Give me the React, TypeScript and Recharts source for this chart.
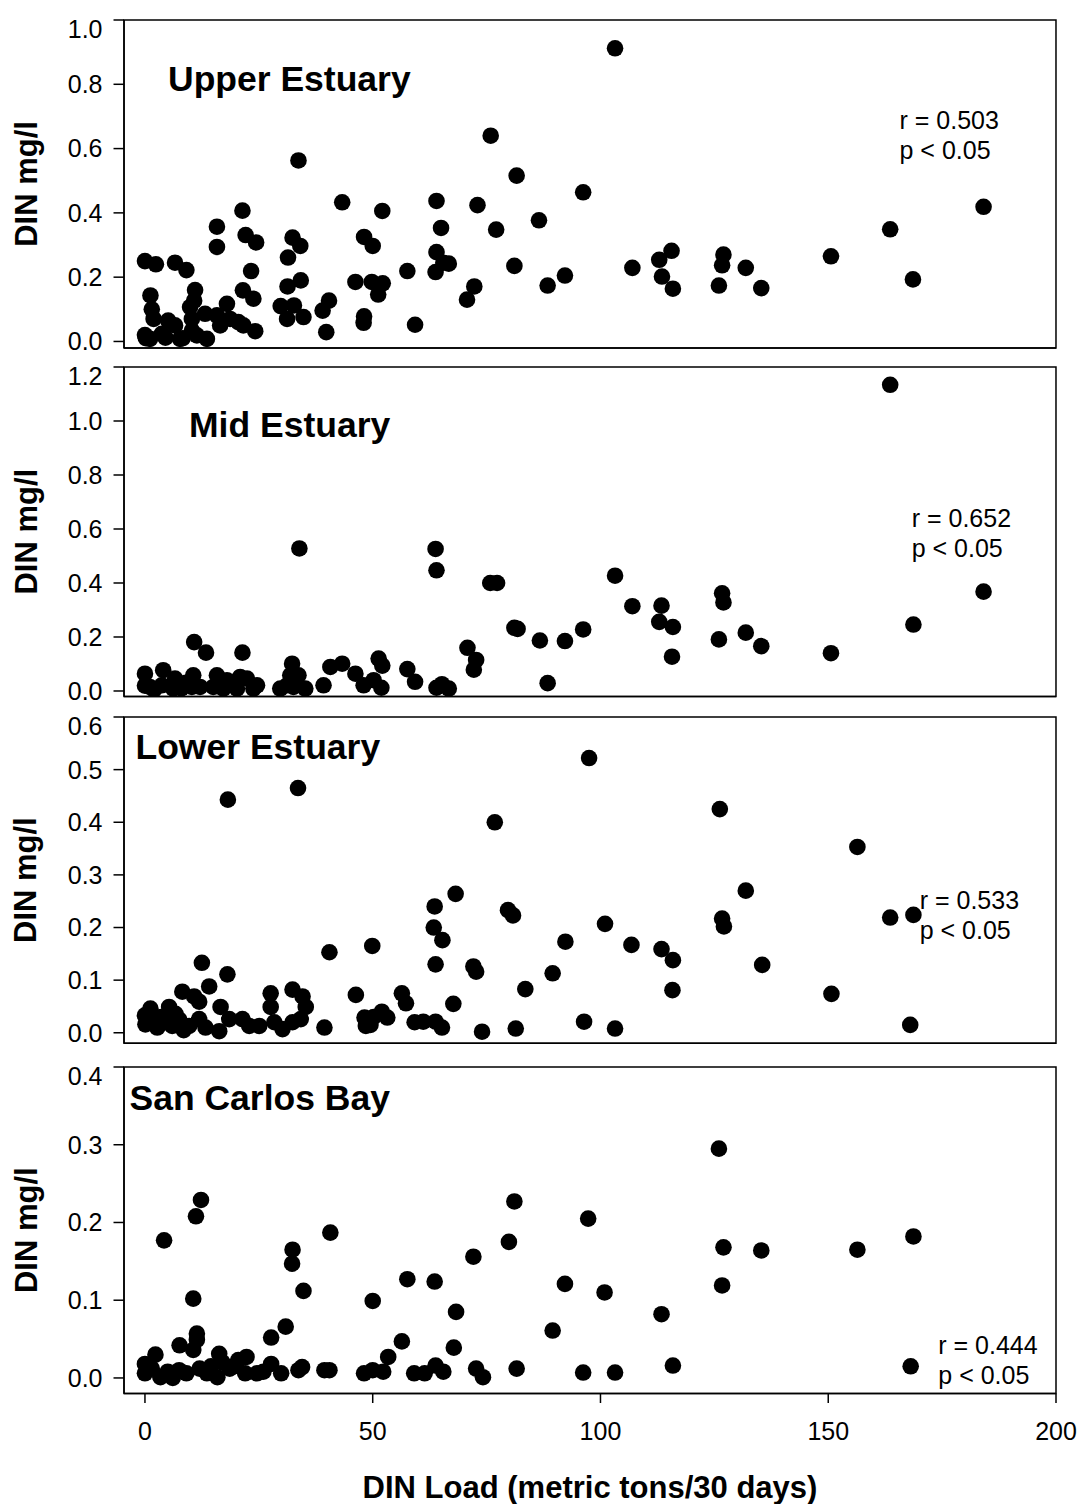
import React from "react";
import { ScatterChart, Scatter, XAxis, YAxis, ReferenceArea } from "recharts";

const FONT = '"Liberation Sans", Arial, Helvetica, sans-serif';

// x axis (DIN load, metric tons / 30 days)
const loadTicks = [0, 50, 100, 150, 200];

// y ticks per panel
const upperTicks = [0, 0.2, 0.4, 0.6, 0.8, 1.0];
const midTicks = [0, 0.2, 0.4, 0.6, 0.8, 1.0, 1.2];
const lowerTicks = [0, 0.1, 0.2, 0.3, 0.4, 0.5, 0.6];
const bayTicks = [0, 0.1, 0.2, 0.3, 0.4];

// [load, DIN mg/l]
const upperEstuary = [
  [0, 0.25], [2.4, 0.24], [6.6, 0.245], [9.1, 0.222],
  [1.2, 0.143], [1.5, 0.1], [1.9, 0.07], [0, 0.02], [0.2, 0.01], [1.1, 0.008],
  [3.7, 0.024], [4.5, 0.012], [5.1, 0.065], [6.6, 0.05], [7.7, 0.008], [8.3, 0.01],
  [11.0, 0.16], [10.8, 0.127], [9.9, 0.107], [10.3, 0.07], [10.3, 0.034], [11.4, 0.019],
  [13.6, 0.008], [13.2, 0.086], [15.8, 0.081], [18.0, 0.117], [16.5, 0.05], [18.7, 0.07],
  [20.5, 0.06], [21.6, 0.05], [24.2, 0.032], [21.5, 0.159], [23.8, 0.133], [23.3, 0.219],
  [15.8, 0.357], [15.8, 0.294], [21.4, 0.407], [22.1, 0.331], [24.4, 0.308],
  [33.7, 0.563], [32.4, 0.323], [34.1, 0.297], [31.4, 0.261], [34.2, 0.19], [31.3, 0.171],
  [29.8, 0.11], [32.7, 0.112], [34.8, 0.076], [31.2, 0.07],
  [40.4, 0.127], [39.0, 0.096], [39.8, 0.029], [43.3, 0.433],
  [48.1, 0.325], [50.0, 0.297], [46.2, 0.185], [49.8, 0.185], [52.2, 0.181], [51.2, 0.146],
  [52.1, 0.406], [48.1, 0.078], [48.0, 0.058],
  [57.6, 0.219], [59.3, 0.052], [64.0, 0.437], [65.0, 0.353], [64.0, 0.278], [63.8, 0.216],
  [65.5, 0.245], [66.7, 0.242],
  [73.0, 0.424], [75.9, 0.64], [77.1, 0.348], [81.6, 0.516], [81.1, 0.235], [72.3, 0.171],
  [70.7, 0.13], [86.5, 0.377],
  [103.2, 0.912], [96.2, 0.464], [88.4, 0.174], [92.2, 0.205], [107.0, 0.229], [112.9, 0.254],
  [115.6, 0.282], [113.5, 0.202], [115.9, 0.164], [127.0, 0.27], [126.7, 0.237], [126.0, 0.174],
  [131.9, 0.229], [135.3, 0.166], [150.6, 0.265], [163.6, 0.349], [168.6, 0.193], [184.1, 0.419],
];

const midEstuary = [
  [0, 0.064], [0, 0.02], [1.1, 0.015], [2.0, 0.005], [4.0, 0.077], [6.6, 0.046], [3.7, 0.021],
  [6.2, 0.009], [8.0, 0.01], [9.0, 0.03], [10.6, 0.058], [10.3, 0.015], [12.1, 0.015],
  [15.8, 0.058], [15.0, 0.015], [18.0, 0.04], [17.2, 0.009], [20.9, 0.052], [22.4, 0.046],
  [20.2, 0.009], [24.6, 0.021], [23.8, 0.009], [10.8, 0.181], [13.4, 0.142], [21.4, 0.142],
  [32.3, 0.101], [31.9, 0.058], [33.7, 0.058], [29.7, 0.009], [31.2, 0.021], [32.6, 0.015],
  [35.2, 0.009], [33.9, 0.528], [39.2, 0.021], [40.7, 0.089], [43.3, 0.101], [46.2, 0.064],
  [48.0, 0.021], [50.2, 0.04], [51.3, 0.12], [52.1, 0.094], [51.9, 0.012], [57.6, 0.081],
  [59.3, 0.034], [63.8, 0.526], [64.0, 0.447], [64.0, 0.012], [65.2, 0.025], [66.7, 0.009],
  [70.8, 0.16], [72.7, 0.115], [72.2, 0.079], [75.8, 0.4], [77.3, 0.4], [81.1, 0.234],
  [81.8, 0.23], [86.7, 0.187], [88.4, 0.029], [92.2, 0.185], [96.2, 0.228], [103.2, 0.427],
  [107.0, 0.314], [113.4, 0.316], [112.9, 0.256], [115.9, 0.237], [115.7, 0.127],
  [126.7, 0.362], [127.0, 0.328], [126.0, 0.191], [131.9, 0.216], [135.3, 0.166],
  [150.6, 0.14], [163.6, 1.134], [168.7, 0.246], [184.1, 0.368],
];

const lowerEstuary = [
  [0, 0.033], [0.1, 0.016], [1.2, 0.046], [1.5, 0.025], [2.7, 0.01], [3.5, 0.03], [4.5, 0.02],
  [5.3, 0.049], [6.7, 0.036], [6.0, 0.013], [7.5, 0.025], [8.5, 0.005], [9.7, 0.013],
  [8.2, 0.078], [10.8, 0.069], [11.9, 0.059], [11.9, 0.026], [13.3, 0.01], [12.5, 0.133],
  [14.1, 0.088], [18.1, 0.111], [18.2, 0.443], [16.6, 0.049], [16.3, 0.003], [18.5, 0.026],
  [21.4, 0.026], [22.9, 0.013], [25.1, 0.013], [27.6, 0.075], [27.6, 0.049], [28.4, 0.02],
  [30.2, 0.007], [32.4, 0.082], [34.6, 0.069], [35.3, 0.049], [34.2, 0.026], [32.4, 0.02],
  [33.6, 0.465], [39.4, 0.01], [40.5, 0.153], [46.3, 0.072], [48.2, 0.029], [48.5, 0.013],
  [49.9, 0.165], [50.2, 0.03], [52.0, 0.04], [53.2, 0.029], [49.5, 0.015], [56.4, 0.075],
  [57.3, 0.056], [59.2, 0.02], [61.1, 0.021], [63.6, 0.24], [63.4, 0.2], [65.3, 0.176],
  [63.8, 0.13], [63.8, 0.021], [65.2, 0.01], [67.7, 0.055], [68.2, 0.264], [72.1, 0.126],
  [72.7, 0.116], [74.0, 0.002], [76.8, 0.4], [79.7, 0.233], [80.8, 0.223], [81.4, 0.008],
  [83.5, 0.083], [89.5, 0.113], [92.3, 0.173], [96.4, 0.021], [97.5, 0.522], [101.0, 0.207],
  [103.2, 0.008], [106.8, 0.167], [113.4, 0.159], [115.9, 0.138], [115.8, 0.081],
  [126.2, 0.425], [126.7, 0.217], [127.1, 0.202], [131.9, 0.27], [135.5, 0.129],
  [150.7, 0.074], [156.4, 0.353], [163.6, 0.219], [168.7, 0.224], [168.0, 0.015],
];

const sanCarlosBay = [
  [4.2, 0.177], [11.2, 0.208], [12.3, 0.229], [10.6, 0.102], [11.4, 0.057], [11.4, 0.049],
  [10.6, 0.036], [7.6, 0.042], [2.3, 0.03], [0, 0.018], [0, 0.006], [1.5, 0.012], [3.4, 0.001],
  [5.0, 0.008], [6.1, 0.0], [7.5, 0.01], [9.1, 0.006], [12.0, 0.012], [13.6, 0.006],
  [14.5, 0.015], [16.3, 0.031], [15.9, 0.001], [17.0, 0.02], [18.6, 0.012], [19.5, 0.015],
  [22.3, 0.027], [20.5, 0.023], [22.0, 0.006], [24.6, 0.006], [26.0, 0.008], [27.7, 0.052],
  [27.7, 0.018], [29.9, 0.006], [30.9, 0.066], [32.4, 0.165], [32.3, 0.147], [34.8, 0.112],
  [34.5, 0.014], [33.7, 0.01], [40.7, 0.187], [39.4, 0.01], [40.5, 0.01], [50.0, 0.099],
  [48.1, 0.006], [50.0, 0.01], [52.3, 0.008], [53.4, 0.027], [56.4, 0.047], [57.6, 0.127],
  [59.1, 0.006], [61.4, 0.006], [63.6, 0.124], [63.8, 0.016], [65.5, 0.008], [68.3, 0.085],
  [67.8, 0.039], [72.1, 0.156], [72.7, 0.012], [74.2, 0.001], [81.1, 0.227], [79.9, 0.175],
  [81.6, 0.012], [89.5, 0.061], [92.2, 0.121], [96.2, 0.007], [97.3, 0.205], [100.9, 0.11],
  [103.2, 0.007], [113.4, 0.082], [115.9, 0.016], [126.0, 0.295], [127.0, 0.168],
  [126.7, 0.119], [135.3, 0.164], [156.4, 0.165], [168.7, 0.182], [168.1, 0.015],
];

const panels = [
  { title: "Upper Estuary", stat: "r = 0.503", points: upperEstuary, yMax: 1.0, ticks: upperTicks,
    top: 19.5, bottom: 347.4, titleAt: [168, 90.6], statAt: [899.5, 129.2] },
  { title: "Mid Estuary", stat: "r = 0.652", points: midEstuary, yMax: 1.2, ticks: midTicks,
    top: 366.7, bottom: 696.1, titleAt: [189, 437.1], statAt: [911.7, 527.4] },
  { title: "Lower Estuary", stat: "r = 0.533", points: lowerEstuary, yMax: 0.6, ticks: lowerTicks,
    top: 716.5, bottom: 1042.8, titleAt: [135.5, 759.2], statAt: [919.7, 909.2] },
  { title: "San Carlos Bay", stat: "r = 0.444", points: sanCarlosBay, yMax: 0.4, ticks: bayTicks,
    top: 1066.5, bottom: 1393, titleAt: [129.5, 1110], statAt: [938.3, 1354.3] },
];

const X_MIN = -4.6;
const X_MAX = 200;
const Y_MIN = -0.02;
const PAGE_H = 1504;
const MARGIN_TOP = 5;

const line = { stroke: "#000", strokeWidth: 1.5 };
const tickFont = { fontFamily: FONT, fontSize: 25, fill: "#000" };

const Dot = (props: any) => <circle cx={props.cx} cy={props.cy} r={8.3} fill="#000" />;

const YTitle = ({ midY }: any) => {
  const x = 36.5;
  return (
    <text x={x} y={midY} transform={`rotate(-90, ${x}, ${midY})`} textAnchor="middle"
      fontFamily={FONT} fontWeight="bold" fontSize={31} fill="#000">
      DIN mg/l
    </text>
  );
};

const XTitle = ({ baseY }: any) => (
  <text x={590} y={baseY} textAnchor="middle" fontFamily={FONT} fontWeight="bold" fontSize={31} fill="#000">
    DIN Load (metric tons/30 days)
  </text>
);

function Panel({ p, last }: any) {
  const plotH = p.bottom - p.top;
  const axisH = last ? PAGE_H - p.bottom : 12;
  const chartTop = p.top - MARGIN_TOP;
  const data = p.points.map(([x, y]: number[]) => ({ x, y }));

  return (
    <div style={{ position: "absolute", left: 0, top: chartTop }}>
      <ScatterChart width={1082} height={MARGIN_TOP + plotH + axisH}
        margin={{ top: MARGIN_TOP, right: 26, bottom: 0, left: 0 }}>
        <XAxis type="number" dataKey="x" domain={[X_MIN, X_MAX]} ticks={loadTicks}
          height={axisH} tickSize={9.5} tickMargin={19} axisLine={line} tickLine={line}
          tick={last ? tickFont : false} allowDataOverflow
          label={last ? <XTitle baseY={1497 - chartTop} /> : undefined} />
        <YAxis type="number" dataKey="y" domain={[Y_MIN, p.yMax]} ticks={p.ticks}
          width={124} tickSize={10.5} tickMargin={11} axisLine={line} tickLine={line}
          tick={tickFont} tickFormatter={(v: number) => v.toFixed(1)} allowDataOverflow
          label={<YTitle midY={MARGIN_TOP + plotH / 2} />} />
        <ReferenceArea x1={X_MIN} x2={X_MAX} y1={Y_MIN} y2={p.yMax} fill="none"
          stroke="#000" strokeWidth={1.5} ifOverflow="visible" />
        <Scatter data={data} shape={Dot} isAnimationActive={false} />
      </ScatterChart>
    </div>
  );
}

export default function App() {
  return (
    <div style={{ position: "absolute", left: 0, top: 0, width: 1082, height: PAGE_H, background: "#fff" }}>
      {panels.map((p, i) => (
        <Panel key={p.title} p={p} last={i === panels.length - 1} />
      ))}
      <svg width={1082} height={PAGE_H} style={{ position: "absolute", left: 0, top: 0, pointerEvents: "none" }}>
        {panels.map((p) => (
          <g key={p.title} fontFamily={FONT} fill="#000">
            <text x={p.titleAt[0]} y={p.titleAt[1]} fontSize={35.5} fontWeight="bold">{p.title}</text>
            <text x={p.statAt[0]} y={p.statAt[1]} fontSize={25}>{p.stat}</text>
            <text x={p.statAt[0]} y={p.statAt[1] + 29.6} fontSize={25}>p &lt; 0.05</text>
          </g>
        ))}
      </svg>
    </div>
  );
}
